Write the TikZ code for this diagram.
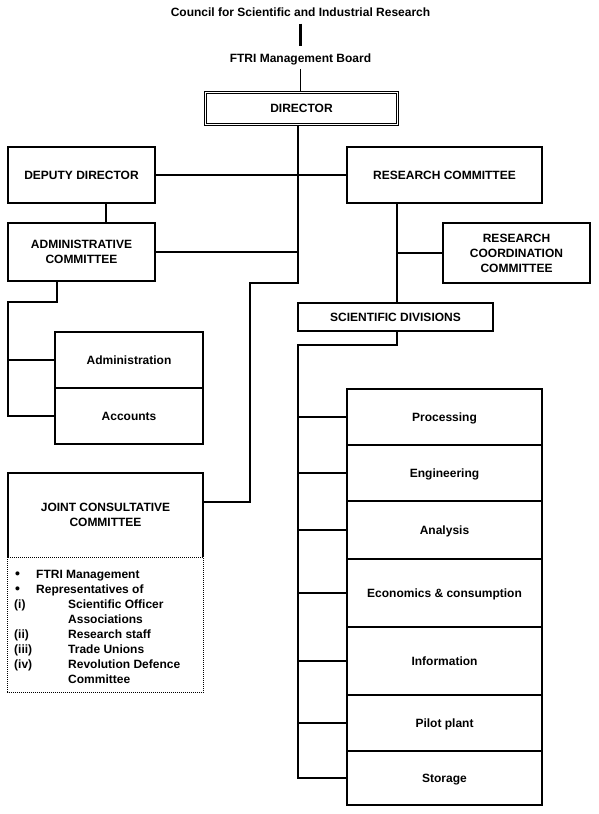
\documentclass[tikz,border=0pt]{standalone}
\usepackage{fontspec}
\setmainfont{Liberation Sans}
\begin{document}
\begin{tikzpicture}[x=1pt,y=-1pt,font=\fontsize{12}{15}\selectfont\bfseries]
\tikzset{
 box/.style={draw, line width=1.5pt, inner sep=0pt, align=center},
 div/.style={box, minimum width=195pt, text height=8.6pt, text depth=0pt},
 sub/.style={box, minimum width=148pt, text height=8.6pt, text depth=0pt},
 wire/.style={line width=1.4pt},
 lbl/.style={inner sep=4pt},
 item/.style={anchor=base west, inner sep=0pt},
 dotbox/.style={draw, line width=1pt, dash pattern=on 1pt off 1pt},
}
\newcommand{\bigbul}{\makebox[21pt][l]{\fontsize{14}{15}\selectfont\smash{\textbullet}}}
\useasboundingbox (0,0) rectangle (599,814);
\fill[white] (0,0) rectangle (599,814);
% top labels
\node[lbl] (csir) at (300.5,12) {Council for Scientific and Industrial Research};
\node[lbl] (ftri) at (300.5,59) {FTRI Management Board};
\node[box, double, line width=1.1pt, double distance=1.2pt, minimum width=192pt, minimum height=32pt] (dir) at (301.5,108.5) {DIRECTOR};
% left boxes
\node[box, minimum width=147pt, minimum height=56pt] (dd) at (81.5,175) {DEPUTY DIRECTOR};
\node[box, minimum width=147pt, minimum height=58pt] (adm) at (81.5,252) {ADMINISTRATIVE\\COMMITTEE};
\node[sub, minimum height=56pt] (adn) at (129,360) {Administration};
\node[sub, minimum height=56pt] (acc) at (129,416) {Accounts};
% right boxes
\node[box, minimum width=195pt, minimum height=56pt] (rc) at (444.5,175) {RESEARCH COMMITTEE};
\node[box, minimum width=147pt, minimum height=60pt] (rcc) at (516.5,253) {RESEARCH\\COORDINATION\\COMMITTEE};
\node[box, minimum width=195pt, minimum height=28pt] (sd) at (395.5,317) {SCIENTIFIC DIVISIONS};
\node[div, minimum height=56pt] (p1) at (444.5,417) {Processing};
\node[div, minimum height=56pt] (p2) at (444.5,473) {Engineering};
\node[div, minimum height=58pt] (p3) at (444.5,530) {Analysis};
\node[div, minimum height=68pt] (p4) at (444.5,593) {Economics \& consumption};
\node[div, minimum height=68pt] (p5) at (444.5,661) {Information};
\node[div, minimum height=56pt] (p6) at (444.5,723) {Pilot plant};
\node[div, minimum height=54pt] (p7) at (444.5,778) {Storage};
% joint consultative committee
\node[align=center, inner sep=0pt, minimum width=195pt, minimum height=84pt] (jcct) at (105.5,515) {JOINT CONSULTATIVE\\COMMITTEE};
\draw[line width=1.5pt] (jcct.south west) -- (jcct.north west) -- (jcct.north east) -- (jcct.south east);
\draw[dotbox] (jcct.south west) rectangle ([yshift=-135pt]jcct.south east);
\node[item] (j1) at (15,578) {\bigbul FTRI Management};
\node[item] (j2) at (15,593.1) {\bigbul Representatives of};
\node[item] (j3) at (14,608.2) {\makebox[54pt][l]{(i)}Scientific Officer};
\node[item] (j4) at (14,623.3) {\makebox[54pt][l]{}Associations};
\node[item] (j5) at (14,638.4) {\makebox[54pt][l]{(ii)}Research staff};
\node[item] (j6) at (14,653.5) {\makebox[54pt][l]{(iii)}Trade Unions};
\node[item] (j7) at (14,668.6) {\makebox[54pt][l]{(iv)}Revolution Defence};
\node[item] (j8) at (14,683.7) {\makebox[54pt][l]{}Committee};
% coordinates
\coordinate (spx) at (298,283);
\coordinate (jx) at (250,283);
\coordinate (jc) at ([yshift=-29pt]jcct.north east);
\coordinate (ddx) at (106,0);
\coordinate (ax) at (57,302);
\coordinate (al) at (8,302);
\coordinate (rx) at (397,0);
\coordinate (sx) at (397,345);
\coordinate (sl) at (298,345);
% connectors
\draw[line width=2.6pt, shorten <=3pt, shorten >=3pt] (csir.south) -- (ftri.north);
\draw[line width=1pt] (ftri.south) -- (ftri.south |- dir.north);
\draw[wire] (dir.south -| spx) -- (spx) -- (jx) -- (jx |- jc) -- (jc);
\draw[wire] (dd.east) -- (rc.west);
\draw[wire] (dd.south -| ddx) -- (adm.north -| ddx);
\draw[wire] (adm.east) -- (adm.east -| spx);
\draw[wire] (adm.south -| ax) -- (ax) -- (al) -- (al |- acc.west) -- (acc.west);
\draw[wire] (al |- adn.west) -- (adn.west);
\draw[wire] (rc.south -| rx) -- (sd.north -| rx);
\draw[wire] (rcc.west -| rx) -- (rcc.west);
\draw[wire] (sd.south -| rx) -- (sx) -- (sl) -- (sl |- p7.west) -- (p7.west);
\foreach \n in {p1,p2,p3,p4,p5,p6} \draw[wire] (sl |- \n.west) -- (\n.west);
\end{tikzpicture}
\end{document}
